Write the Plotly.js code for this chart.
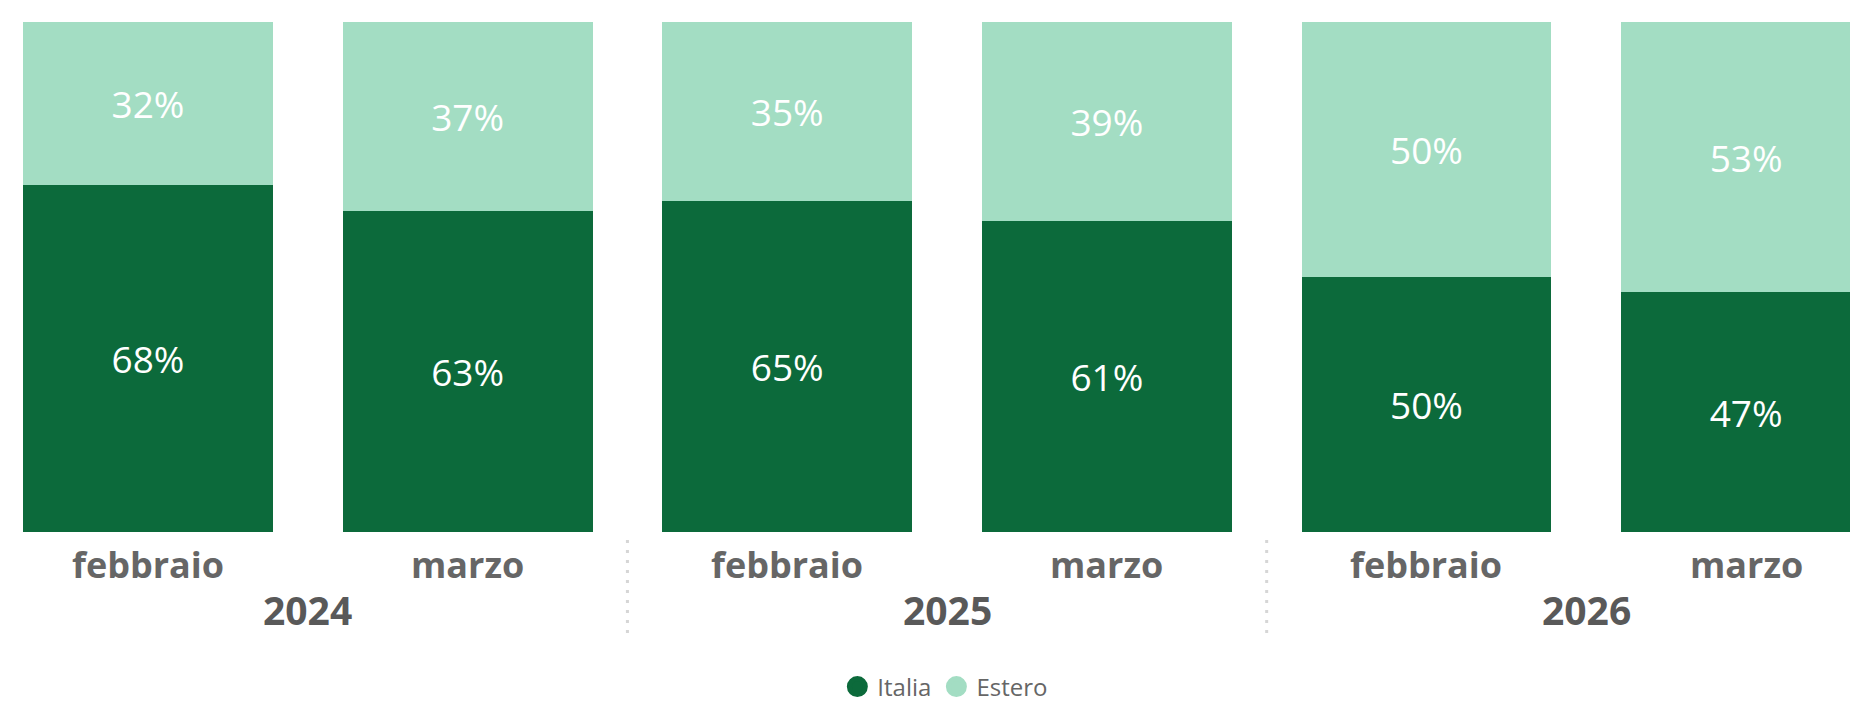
<!DOCTYPE html>
<html>
<head>
<meta charset="utf-8">
<script src="https://cdn.plot.ly/plotly-3.0.1.min.js"></script>
<style>
  html, body { margin: 0; padding: 0; background: #fff; }
  #chart { width: 1850px; height: 704px; }
</style>
</head>
<body>
<div id="chart"></div>
<script>
const months = ['febbraio', 'marzo', 'febbraio', 'marzo', 'febbraio', 'marzo'];
const years = ['2024', '2024', '2025', '2025', '2026', '2026'];
const italia = [68, 63, 65, 61, 50, 47];
const estero = [32, 37, 35, 39, 50, 53];
const seriesNames = ['Italia', 'Estero'];
const colors = ['#0C6A3B', '#A3DDC3'];

const xs = months.map((_, i) => i);
const FONT = '"Open Sans", "Noto Sans", sans-serif';

function barTrace(name, vals, color) {
  return {
    type: 'bar', name: name, x: xs, y: vals, width: 0.782,
    marker: { color: color, line: { width: 0 } },
    texttemplate: '%{y}%', textposition: 'inside', insidetextanchor: 'middle',
    textangle: 0, constraintext: 'none',
    textfont: { family: FONT, size: 37, color: '#FFFFFF' },
    hoverinfo: 'skip', showlegend: false
  };
}
function legendTrace(name, color) {
  return {
    type: 'scatter', mode: 'markers', name: name, x: [null], y: [null],
    marker: { symbol: 'circle', size: 16, color: color, line: { color: color, width: 5 } },
    hoverinfo: 'skip', showlegend: true
  };
}

const data = [
  barTrace(seriesNames[0], italia, colors[0]),
  barTrace(seriesNames[1], estero, colors[1]),
  legendTrace(seriesNames[0], colors[0]),
  legendTrace(seriesNames[1], colors[1])
];

// plot-area geometry (px) used to convert label positions to paper coords
const plotTop = 22, plotBottom = 532, H = 704;
const plotH = plotBottom - plotTop;
const toPaper = (py) => (plotBottom - py) / plotH;

const annotations = [];
xs.forEach((x, i) => {
  annotations.push({
    x: x, xref: 'x', y: toPaper(564), yref: 'paper', yanchor: 'middle', xanchor: 'center',
    text: '<b>' + months[i] + '</b>', showarrow: false,
    font: { family: FONT, size: 36, color: '#666666' }
  });
});
const uniqYears = [...new Set(years)];
uniqYears.forEach((yr) => {
  const idx = xs.filter((i) => years[i] === yr);
  const cx = idx.reduce((a, b) => a + b, 0) / idx.length;
  annotations.push({
    x: cx, xref: 'x', y: toPaper(609), yref: 'paper', yanchor: 'middle', xanchor: 'center',
    text: '<b>' + yr + '</b>', showarrow: false,
    font: { family: FONT, size: 39, color: '#595959' }
  });
});

const shapes = [];
for (let i = 1; i < years.length; i++) {
  if (years[i] !== years[i - 1]) {
    shapes.push({
      type: 'line', xref: 'x', yref: 'paper', x0: i - 0.5, x1: i - 0.5,
      y0: toPaper(540), y1: toPaper(638),
      line: { color: '#D6D6D6', width: 3, dash: '3px,7px' }
    });
  }
}

const layout = {
  width: 1850, height: H,
  margin: { l: 0, r: 0, t: plotTop, b: H - plotBottom, pad: 0, autoexpand: false },
  paper_bgcolor: '#FFFFFF', plot_bgcolor: '#FFFFFF',
  barmode: 'stack',
  font: { family: FONT, color: '#666666' },
  xaxis: { range: [-0.463, 5.325], showticklabels: false, showgrid: false, zeroline: false, showline: false, ticks: '', fixedrange: true },
  yaxis: { range: [0, 100], visible: false, fixedrange: true },
  legend: {
    orientation: 'h', traceorder: 'normal', x: 0.511, xanchor: 'center', y: toPaper(687), yanchor: 'middle',
    font: { family: FONT, size: 24, color: '#666666' }, itemclick: false, itemdoubleclick: false,
    tracegroupgap: 0, itemwidth: 30
  },
  annotations: annotations,
  shapes: shapes,
  showlegend: true
};

Plotly.newPlot('chart', data, layout, { displayModeBar: false, staticPlot: true });
</script>
</body>
</html>
